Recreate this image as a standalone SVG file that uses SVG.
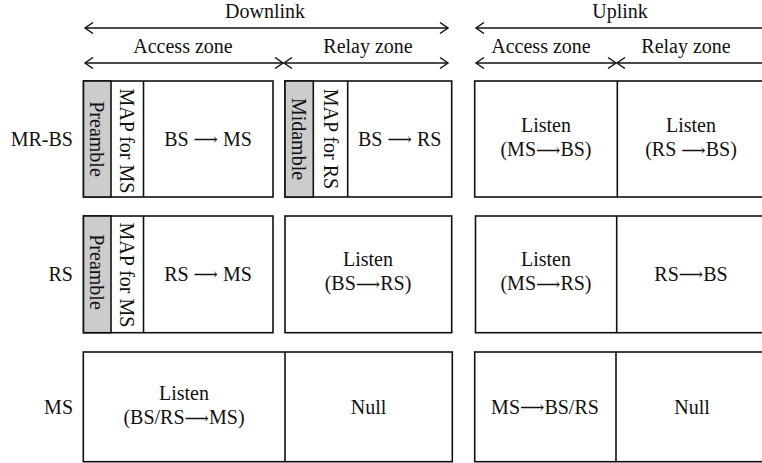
<svg xmlns="http://www.w3.org/2000/svg" width="762" height="463" viewBox="0 0 762 463">
<defs>
<marker id="ah" viewBox="-10 -6 12 12" refX="0" refY="0" markerWidth="12" markerHeight="12" markerUnits="userSpaceOnUse" orient="auto-start-reverse">
<path d="M-8,-5.5 L0,0 L-8,5.5" fill="none" stroke="#111" stroke-width="1.4"/>
</marker>
<style>
text{font-family:"Liberation Serif","Times New Roman",serif;font-size:20px;fill:#111;}
.c{text-anchor:middle;}
.e{text-anchor:end;}
.m{dominant-baseline:central;}
.a{font-family:"DejaVu Serif","DejaVu Sans",serif;font-size:17px;}
.box{fill:#fff;stroke:#111;stroke-width:1.6;}
.g{fill:#cccccc;stroke:#111;stroke-width:1.6;}
.ln{stroke:#111;stroke-width:1.6;fill:none;}
.ar{stroke:#111;stroke-width:1.6;fill:none;marker-start:url(#ah);marker-end:url(#ah);}
.ar1{stroke:#111;stroke-width:1.6;fill:none;marker-start:url(#ah);}
</style>
</defs>
<g id="header">
<text class="c" x="265" y="18">Downlink</text>
<text class="c" x="620" y="18">Uplink</text>
<text class="c" x="183" y="53">Access zone</text>
<text class="c" x="368" y="53">Relay zone</text>
<text class="c" x="541" y="53">Access zone</text>
<text class="c" x="686" y="53">Relay zone</text>
</g>
<g id="connectors">
<line class="ar" x1="85" y1="28" x2="448" y2="28"/>
<line class="ar" x1="85" y1="63" x2="283" y2="63"/>
<line class="ar" x1="284" y1="63" x2="448" y2="63"/>
<line class="ar1" x1="476" y1="28" x2="770" y2="28"/>
<line class="ar" x1="476" y1="63" x2="616" y2="63"/>
<line class="ar1" x1="617" y1="63" x2="770" y2="63"/>
</g>
<g id="labels">
<text class="e m" x="73" y="139">MR-BS</text>
<text class="e m" x="73" y="274">RS</text>
<text class="e m" x="73" y="407">MS</text>
</g>
<g id="mrbs-dl-access">
<rect class="box" x="83.5" y="81" width="189.5" height="116"/>
<rect class="g" x="83.5" y="81" width="27.5" height="116"/>
<line class="ln" x1="143.5" y1="81" x2="143.5" y2="197"/>
<text class="c m" transform="translate(97.3,139) rotate(90)">Preamble</text>
<text class="c m" transform="translate(127.3,141) rotate(90)">MAP for MS</text>
<text class="c m" x="208" y="139">BS <tspan class="a">⟶</tspan> MS</text>
</g>
<g id="mrbs-dl-relay">
<rect class="box" x="285" y="81" width="166.7" height="116"/>
<rect class="g" x="285" y="81" width="28.3" height="116"/>
<line class="ln" x1="347.7" y1="81" x2="347.7" y2="197"/>
<text class="c m" transform="translate(299.2,139) rotate(90)">Midamble</text>
<text class="c m" transform="translate(330.5,139) rotate(90)">MAP for RS</text>
<text class="c m" x="399.7" y="139">BS <tspan class="a">⟶</tspan> RS</text>
</g>
<g id="mrbs-ul">
<rect class="box" x="474.7" y="81" width="300" height="116"/>
<line class="ln" x1="617.3" y1="81" x2="617.3" y2="197"/>
<text class="c" x="546" y="132">Listen</text>
<text class="c" x="546" y="156">(MS<tspan class="a">⟶</tspan>BS)</text>
<text class="c" x="691" y="132">Listen</text>
<text class="c" x="691" y="156">(RS <tspan class="a">⟶</tspan>BS)</text>
</g>
<g id="rs-dl-access">
<rect class="box" x="83.5" y="216" width="189.5" height="116.7"/>
<rect class="g" x="83.5" y="216" width="27.5" height="116.7"/>
<line class="ln" x1="143.5" y1="216" x2="143.5" y2="332.7"/>
<text class="c m" transform="translate(97.3,272) rotate(90)">Preamble</text>
<text class="c m" transform="translate(127.3,275) rotate(90)">MAP for MS</text>
<text class="c m" x="208" y="274">RS <tspan class="a">⟶</tspan> MS</text>
</g>
<g id="rs-dl-relay">
<rect class="box" x="285" y="216" width="166.7" height="116.7"/>
<text class="c" x="368" y="266">Listen</text>
<text class="c" x="368" y="290">(BS<tspan class="a">⟶</tspan>RS)</text>
</g>
<g id="rs-ul">
<rect class="box" x="475.5" y="216" width="300" height="116.7"/>
<line class="ln" x1="616.7" y1="216" x2="616.7" y2="332.7"/>
<text class="c" x="546" y="266">Listen</text>
<text class="c" x="546" y="290">(MS<tspan class="a">⟶</tspan>RS)</text>
<text class="c m" x="691" y="274">RS<tspan class="a">⟶</tspan>BS</text>
</g>
<g id="ms-dl">
<rect class="box" x="83.3" y="352" width="369" height="109.7"/>
<line class="ln" x1="285" y1="352" x2="285" y2="461.7"/>
<text class="c" x="184" y="400">Listen</text>
<text class="c" x="184" y="424">(BS/RS<tspan class="a">⟶</tspan>MS)</text>
<text class="c m" x="368.5" y="407">Null</text>
</g>
<g id="ms-ul">
<rect class="box" x="474.7" y="352" width="300" height="109.7"/>
<line class="ln" x1="616" y1="352" x2="616" y2="461.7"/>
<text class="c m" x="545" y="407">MS<tspan class="a">⟶</tspan>BS/RS</text>
<text class="c m" x="692" y="407">Null</text>
</g>
</svg>
